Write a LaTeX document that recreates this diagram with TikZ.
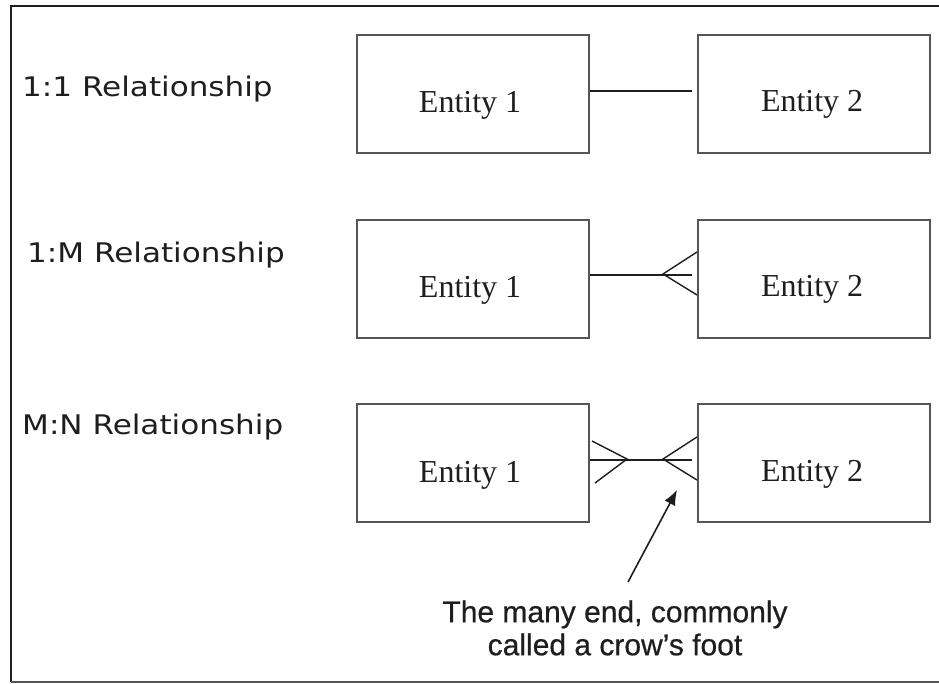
\documentclass[tikz,border=0pt]{standalone}
\usepackage{fontspec}
\setmainfont{Liberation Serif}
\newfontfamily\labfont{DejaVu Sans}
\newfontfamily\notefont{Liberation Sans}[FakeBold=0.6]
\usetikzlibrary{arrows.meta,calc}
\definecolor{boxgray}{HTML}{555555}
\definecolor{ink}{HTML}{1E1E1E}
\tikzset{
  entbox/.style={draw=boxgray, line width=2.2pt, minimum width=232pt, minimum height=118pt, inner sep=0pt, anchor=north west},
  enttext/.style={font=\fontsize{32}{35}\selectfont, text=ink, anchor=base, inner sep=0pt},
  rellabel/.style={font=\labfont\fontsize{27}{30}\selectfont, text=ink, anchor=base west, inner sep=0pt, xscale=1.15},
  conn/.style={draw=ink, line width=1.4pt},
  frameline/.style={draw=ink, line width=1.6pt},
  note/.style={font=\notefont\fontsize{30}{33}\selectfont, text=ink, align=center, inner sep=0pt}
}
\begin{document}
\begin{tikzpicture}[x=1pt,y=-1pt]
\useasboundingbox (0,0) rectangle (939,684);
% frame
\coordinate (ftr) at (939,6);
\coordinate (ftl) at (11,6);
\coordinate (fbl) at (11,682);
\coordinate (fbr) at (939,682);
\draw[frameline] (ftr) -- (ftl) -- (fbl);
\draw[draw=boxgray, line width=1.6pt] (fbl) -- (fbr);
% labels
\node[rellabel] (l1) at (22,97) {1:1 Relationship};
\node[rellabel] (l2) at (27,263) {1:M Relationship};
\node[rellabel] (l3) at (22,434) {M:N Relationship};
% boxes
\node[entbox] (a1) at (356,34) {};
\node[entbox] (b1) at (697,34) {};
\node[entbox] (a2) at (356,219) {};
\node[entbox] (b2) at (697,219) {};
\node[entbox] (a3) at (356,403) {};
\node[entbox] (b3) at (697,403) {};
\foreach \r in {1,2,3}{
  \node[enttext] (ta\r) at ($(a\r.north)+(-3,79)$) {Entity 1};
  \node[enttext] (tb\r) at ($(b\r.north)+(-2,78)$) {Entity 2};
}
% row 1: one-to-one
\draw[conn] ([yshift=3pt]a1.east) -- ([yshift=3pt,xshift=-5pt]b1.west);
% row 2: one-to-many
\coordinate (v2) at (663,274);
\draw[conn] ([yshift=4pt]a2.east) -- ([yshift=4pt,xshift=-5pt]b2.west);
\draw[conn] (697,252) -- (v2) -- (697,295);
% row 3: many-to-many
\coordinate (v3l) at (627,459);
\coordinate (v3r) at (663,459);
\draw[conn] ([yshift=3pt]a3.east) -- ([yshift=3pt,xshift=-5pt]b3.west);
\draw[conn] (592,441) -- (v3l) -- (595,483);
\draw[conn] (697,437) -- (v3r) -- (697,480);
% note
\node[note] (n) at (615,628) {The many end, commonly\\called a crow’s foot};
\coordinate (tip) at (677,490);
\draw[conn, line width=1.6pt, -{Latex[length=15pt,width=12pt]}] (628,582) -- (tip);
\end{tikzpicture}
\end{document}
